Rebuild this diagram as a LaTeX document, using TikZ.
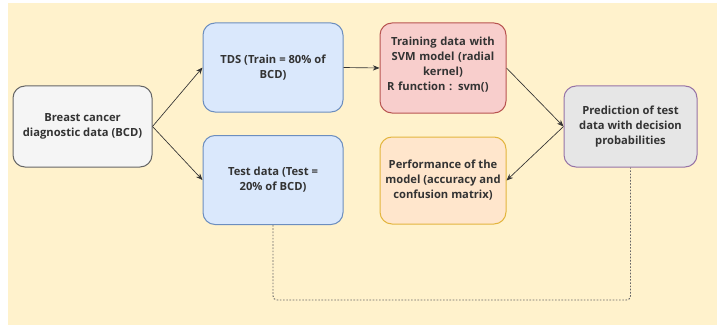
\documentclass[tikz,border=0pt]{standalone}
\usepackage{fontspec}
\setmainfont{Open Sans}
\usepackage{xcolor}
\usepackage{tikz}
\usetikzlibrary{arrows.meta,positioning}
\definecolor{FlowBack}{HTML}{FFF2CC}
\definecolor{FlowGreyFill}{HTML}{F5F5F5}
\definecolor{FlowGreyLine}{HTML}{666666}
\definecolor{FlowBlueFill}{HTML}{DAE8FC}
\definecolor{FlowBlueLine}{HTML}{6C8EBF}
\definecolor{FlowRedFill}{HTML}{F8CECC}
\definecolor{FlowRedLine}{HTML}{B85450}
\definecolor{FlowOrangeFill}{HTML}{FFE6CC}
\definecolor{FlowOrangeLine}{HTML}{E3B53E}
\definecolor{FlowPurpleFill}{HTML}{E6E6E6}
\definecolor{FlowPurpleLine}{HTML}{9673A6}
\definecolor{FlowInk}{HTML}{333333}

\begin{document}
\begin{tikzpicture}[x=0.75pt, y=-0.75pt,
  box/.style={draw, line width=0.75pt, rounded corners=9pt, align=center,
    font=\fontsize{8.4}{11.25}\selectfont\bfseries, text=FlowInk},
  flow/.style={draw=FlowInk, line width=0.5pt, -{Stealth[length=5pt,width=4pt]}},
  loopline/.style={draw=FlowGreyLine, line width=0.7pt,
    dash pattern=on 1.2pt off 1.2pt, rounded corners=3pt}]
\useasboundingbox (0,0) rectangle (728,335);
\fill[FlowBack] (8,3) rectangle (717,325);

\node[box, draw=FlowGreyLine, fill=FlowGreyFill, minimum width=104.25pt,
  minimum height=60.75pt] (bcd) at (82.5,126.5)
  {Breast cancer\\diagnostic data (BCD)};
\node[box, draw=FlowBlueLine, fill=FlowBlueFill, minimum width=105pt,
  minimum height=66.75pt] (tds) at (273,67.5)
  {TDS (Train = 80\% of\\BCD)};
\node[box, draw=FlowBlueLine, fill=FlowBlueFill, minimum width=105pt,
  minimum height=66.75pt] (test) at (273,180)
  {Test data (Test =\\20\% of BCD)};
\node[box, draw=FlowRedLine, fill=FlowRedFill, minimum width=94.5pt,
  minimum height=67.5pt, text width=84pt, align=left] (svm) at (443,68)
  {\centering Training data with\\SVM model (radial\\kernel)\par
   \raggedright R function : svm()\par\vspace*{5pt}};
\node[box, draw=FlowOrangeLine, fill=FlowOrangeFill, minimum width=94.5pt,
  minimum height=65.25pt] (perf) at (443,180.5)
  {Performance of the\\model (accuracy and\\confusion matrix)};
\node[box, draw=FlowPurpleLine, fill=FlowPurpleFill, minimum width=99.75pt,
  minimum height=60.75pt] (pred) at (630.5,126.5)
  {Prediction of test\\data with decision\\probabilities};

\draw[flow] (bcd.east) -- (tds.west);
\draw[flow] (bcd.east) -- (test.west);
\draw[flow] (tds.east) -- (svm.west);
\draw[flow] (svm.east) -- (pred.west);
\draw[flow] (pred.west) -- (perf.east);

% test data goes back to the prediction step
\coordinate (loop) at (450,300);
\draw[loopline] (test.south) |- (loop) -| (pred.south);
\end{tikzpicture}
\end{document}
